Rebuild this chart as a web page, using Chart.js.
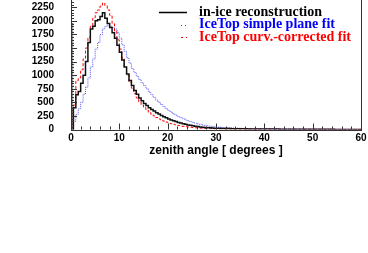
<!DOCTYPE html>
<html>
<head>
<meta charset="utf-8">
<script src="https://cdn.jsdelivr.net/npm/chart.js@4.4.0/dist/chart.umd.min.js"></script>
<style>
    html, body { margin: 0; padding: 0; background: #fff; overflow: hidden; }
    #wrap { position: relative; width: 368px; height: 253px; overflow: hidden; }
    #grafico { position: absolute; left: 0; top: -20px; }
</style>
</head>
<body>
<div id="wrap"><canvas id="grafico" width="368" height="273" style="width:368px;height:273px"></canvas></div>
<script>
// histogramas de 0 a 60 graus, bins de 0.5 grau
const larguraBin = 0.5

const inIce = [
    0, 400, 640, 700, 850, 1000, 1250, 1600, 1850, 1900,
    2000, 2020, 2080, 2150, 2050, 1950, 1880, 1780, 1680, 1550,
    1420, 1280, 1150, 1020, 900, 810, 720, 650, 580, 530,
    480, 440, 400, 370, 340, 310, 285, 260, 235, 215,
    195, 175, 160, 145, 130, 118, 105, 95, 85, 76,
    68, 60, 54, 48, 43, 38, 34, 31, 28, 25,
    23, 22, 20, 19, 18, 17, 16, 15, 15, 14,
    13, 13, 12, 11, 11, 10, 10, 9, 9, 9,
    8, 8, 8, 7, 7, 7, 6, 6, 6, 6,
    5, 5, 5, 5, 5, 4, 4, 4, 4, 4,
    4, 3, 3, 3, 3, 3, 3, 3, 3, 2,
    2, 2, 2, 2, 2, 2, 2, 2, 2, 2
]

const planeFit = [
    0, 150, 280, 380, 500, 650, 780, 950, 1150, 1300,
    1480, 1600, 1750, 1850, 1900, 1910, 1900, 1880, 1850, 1780,
    1680, 1560, 1440, 1320, 1220, 1120, 1050, 980, 920, 860,
    810, 750, 690, 640, 590, 540, 500, 460, 420, 385,
    350, 320, 290, 265, 240, 220, 200, 180, 160, 145,
    130, 118, 105, 95, 85, 76, 68, 61, 55, 50,
    46, 42, 39, 36, 33, 31, 29, 27, 25, 23,
    22, 20, 19, 18, 17, 16, 15, 14, 13, 12,
    12, 11, 10, 10, 9, 9, 8, 8, 8, 7,
    7, 7, 6, 6, 6, 6, 5, 5, 5, 5,
    5, 4, 4, 4, 4, 4, 4, 3, 3, 3,
    3, 3, 3, 3, 3, 3, 2, 2, 2, 2
]

const curvFit = [
    100, 450, 900, 950, 1100, 1300, 1500, 1700, 1900, 2050,
    2150, 2200, 2270, 2330, 2280, 2200, 2100, 1950, 1800, 1650,
    1480, 1320, 1150, 1000, 870, 760, 660, 580, 510, 450,
    400, 355, 315, 280, 250, 220, 195, 175, 155, 138,
    122, 108, 96, 85, 75, 66, 58, 52, 46, 41,
    36, 32, 28, 25, 22, 20, 18, 16, 14, 13,
    12, 11, 11, 10, 10, 9, 9, 8, 8, 8,
    7, 7, 7, 6, 6, 6, 6, 5, 5, 5,
    5, 5, 4, 4, 4, 4, 4, 4, 3, 3,
    3, 3, 3, 3, 3, 3, 3, 2, 2, 2,
    2, 2, 2, 2, 2, 2, 2, 2, 2, 2,
    1, 1, 1, 1, 1, 1, 1, 1, 1, 1
]

// barra cinza no primeiro bin
const barraZero = [1950]

const xTicks = [0, 10, 20, 30, 40, 50, 60]
const yTicks = [0, 250, 500, 750, 1000, 1250, 1500, 1750, 2000, 2250]

const legendas = ['in-ice reconstruction', 'IceTop simple plane fit', 'IceTop curv.-corrected fit']

// cada bin vira dois pontos (inicio e fim) para desenhar o degrau
function montarPontos(valores) {
    const pontos = []
    valores.forEach(function (v, i) {
        pontos.push({ x: i * larguraBin, y: v })
        pontos.push({ x: (i + 1) * larguraBin, y: v })
    })
    return pontos
}

const pluginMoldura = {
    id: 'moldura',
    afterDatasetsDraw(chart) {
        const ctx = chart.ctx
        const area = chart.chartArea
        const sx = chart.scales.x
        const sy = chart.scales.y
        ctx.save()
        ctx.strokeStyle = '#333'
        ctx.lineWidth = 1
        ctx.beginPath()
        // ticks do eixo x, para dentro
        for (let v = 0; v <= 60; v += 2) {
            const px = Math.round(sx.getPixelForValue(v)) + 0.5
            const tam = v % 10 === 0 ? 6 : 3
            ctx.moveTo(px, area.bottom)
            ctx.lineTo(px, area.bottom - tam)
        }
        // ticks do eixo y
        for (let v = 0; v <= 2500; v += 50) {
            const py = Math.round(sy.getPixelForValue(v)) + 0.5
            const tam = v % 250 === 0 ? 6 : 3
            ctx.moveTo(area.left, py)
            ctx.lineTo(area.left + tam, py)
        }
        ctx.stroke()
        ctx.strokeRect(Math.round(area.left) + 0.5, Math.round(area.top) + 0.5,
            Math.round(area.right - area.left), Math.round(area.bottom - area.top))
        ctx.restore()
    },
    afterDraw(chart) {
        const ctx = chart.ctx
        const estilos = [
            { cor: '#000', corTexto: '#000', dash: [], largura: 1.5, ini: 159 },
            { cor: '#3a3aff', corTexto: '#0000ff', dash: [1, 3], largura: 1, ini: 181 },
            { cor: '#ff0000', corTexto: '#ff0000', dash: [2, 3], largura: 1, ini: 181 }
        ]
        ctx.save()
        ctx.font = 'bold 14px "Liberation Serif"'
        ctx.textBaseline = 'middle'
        legendas.forEach(function (txt, i) {
            const y = 32 + i * 12.5
            ctx.strokeStyle = estilos[i].cor
            ctx.lineWidth = estilos[i].largura
            ctx.setLineDash(estilos[i].dash)
            ctx.beginPath()
            ctx.moveTo(estilos[i].ini, Math.round(y) + 0.5)
            ctx.lineTo(187, Math.round(y) + 0.5)
            ctx.stroke()
            ctx.fillStyle = estilos[i].corTexto
            ctx.fillText(txt, 199, y)
        })
        ctx.restore()
    }
}

document.addEventListener("DOMContentLoaded", () => {
    const ctxGrafico = document.getElementById('grafico')

    new Chart(ctxGrafico, {
        type: 'line',
        data: {
            datasets: [
                {
                    label: legendas[0],
                    data: montarPontos(inIce),
                    borderColor: '#111',
                    borderWidth: 1.5,
                    pointRadius: 0,
                    tension: 0,
                    fill: false
                },
                {
                    label: legendas[2],
                    data: montarPontos(curvFit),
                    borderColor: '#ff0000',
                    borderWidth: 1,
                    borderDash: [3, 2],
                    pointRadius: 0,
                    tension: 0,
                    fill: false
                },
                {
                    label: legendas[1],
                    data: montarPontos(planeFit),
                    borderColor: '#5555ff',
                    borderWidth: 1,
                    borderDash: [1, 1],
                    pointRadius: 0,
                    tension: 0,
                    fill: false
                },
                {
                    label: 'bin zero',
                    data: montarPontos(barraZero),
                    borderColor: '#666',
                    backgroundColor: '#9a9a9a',
                    borderWidth: 1,
                    pointRadius: 0,
                    tension: 0,
                    fill: 'origin'
                }
            ]
        },
        options: {
            responsive: false,
            animation: false,
            layout: {
                padding: { left: 0, right: 7, top: 13.7, bottom: 93.5 }
            },
            plugins: {
                legend: { display: false },
                tooltip: { enabled: false }
            },
            scales: {
                x: {
                    type: 'linear',
                    min: 0,
                    max: 60,
                    afterBuildTicks: function (scale) {
                        scale.ticks = xTicks.map(v => ({ value: v }))
                    },
                    afterFit: function (scale) {
                        scale.height = 30
                        scale.paddingLeft = 0
                        scale.paddingRight = 0
                    },
                    grid: { display: false, drawTicks: false },
                    border: { display: false },
                    ticks: {
                        color: '#000',
                        padding: 3,
                        maxRotation: 0,
                        autoSkip: false,
                        font: { family: '"Liberation Sans"', size: 10, weight: 'bold' }
                    },
                    title: {
                        display: true,
                        text: 'zenith angle [ degrees ]',
                        color: '#000',
                        padding: { top: 0, bottom: 2 },
                        font: { family: '"Liberation Sans"', size: 12, weight: 'bold' }
                    }
                },
                y: {
                    min: 0,
                    max: 2500,
                    afterBuildTicks: function (scale) {
                        scale.ticks = yTicks.map(v => ({ value: v }))
                    },
                    afterFit: function (scale) {
                        scale.width = 71
                        scale.paddingTop = 0
                        scale.paddingBottom = 0
                    },
                    grid: { display: false, drawTicks: false },
                    border: { display: false },
                    ticks: {
                        color: '#000',
                        padding: 17,
                        autoSkip: false,
                        callback: function (v) { return String(v) },
                        font: { family: '"Liberation Sans"', size: 10, weight: 'bold' }
                    }
                }
            }
        },
        plugins: [pluginMoldura]
    })
})
</script>
</body>
</html>
